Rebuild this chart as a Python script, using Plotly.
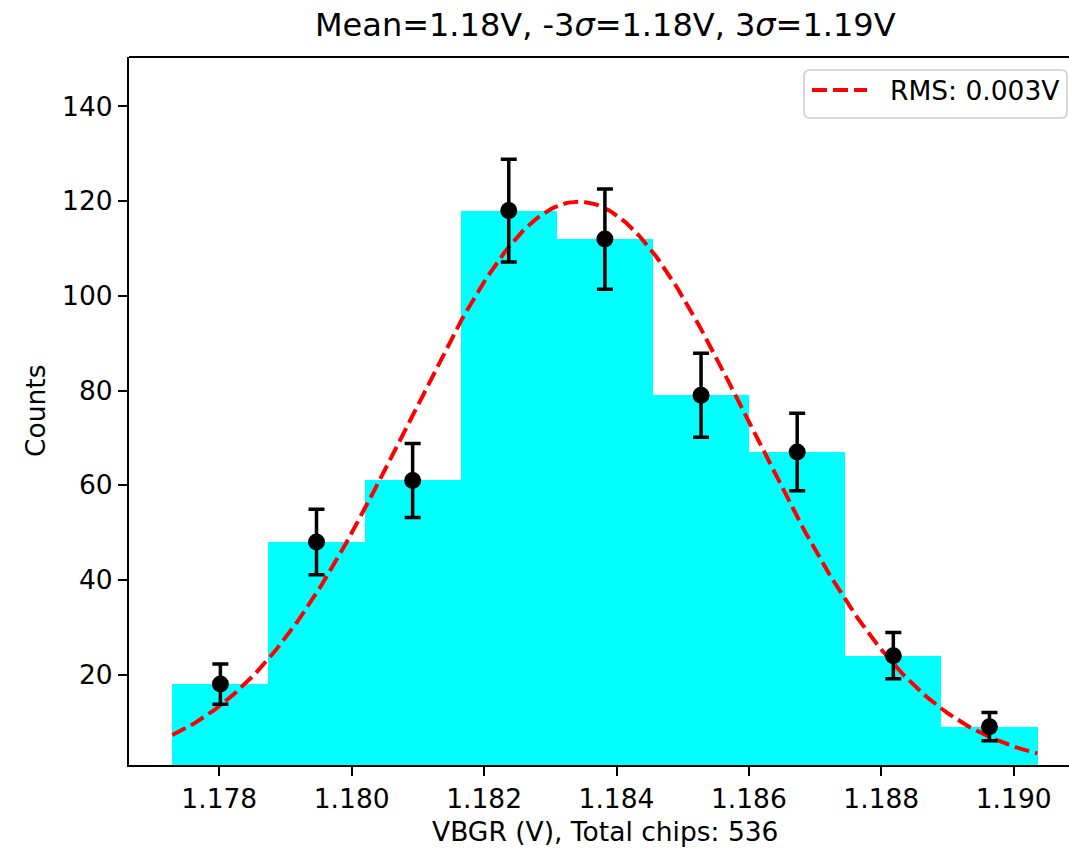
import numpy as np
import plotly.graph_objects as go

# Histogram of VBGR measurements (9 bins)
bin_lo = 1.17729
bin_hi = 1.19036
counts = [18, 48, 61, 118, 112, 79, 67, 24, 9]

# Gaussian fit parameters
fit_mean = 1.18343
fit_sigma = 0.00259

title_text = "Mean=1.18V, -3<i>σ</i>=1.18V, 3<i>σ</i>=1.19V"
xlabel_text = "VBGR (V), Total chips: 536"
ylabel_text = "Counts"
legend_text = "RMS: 0.003V"

x_ticks = [1.178, 1.180, 1.182, 1.184, 1.186, 1.188, 1.190]
y_ticks = [20, 40, 60, 80, 100, 120, 140]

counts_arr = np.array(counts, dtype=float)
nbins = len(counts)
edges = np.linspace(bin_lo, bin_hi, nbins + 1)
centers = 0.5 * (edges[:-1] + edges[1:])
bin_w = edges[1] - edges[0]
errors = np.sqrt(counts_arr)

total = counts_arr.sum()
xf = np.linspace(bin_lo, bin_hi, 300)
amp = total * bin_w / (fit_sigma * np.sqrt(2 * np.pi))
yf = amp * np.exp(-0.5 * ((xf - fit_mean) / fit_sigma) ** 2)

FONT = "DejaVu Sans"
FS = 26.5

# plot-area geometry in pixels
W, H = 1069, 848
L, T, B = 129, 57, 83
PW, PH = W - L, H - T - B


def px(x):
    return (x - L) / PW


def py(y):
    return (H - B - y) / PH


fig = go.Figure()
fig.add_trace(go.Bar(
    x=centers, y=counts_arr, width=bin_w,
    marker=dict(color="#00ffff", line=dict(width=0)),
    showlegend=False, hoverinfo="skip",
))
fig.add_trace(go.Scatter(
    x=xf, y=yf, mode="lines",
    line=dict(color="#ff0000", width=4, dash="15px,6px"),
    name=legend_text, showlegend=False,
))
fig.add_trace(go.Scatter(
    x=centers, y=counts_arr, mode="markers",
    marker=dict(color="black", size=17),
    error_y=dict(type="data", array=errors, color="black",
                 thickness=3.5, width=8),
    showlegend=False,
))

# legend box (rounded) with dashed sample and label
x0, x1, y0, y1, r = 804, 1067, 70, 118, 6
rx, ry = r / PW, r / PH
X0, X1, Y0, Y1 = px(x0), px(x1), py(y1), py(y0)
path = (f"M{X0+rx},{Y0} L{X1-rx},{Y0} Q{X1},{Y0} {X1},{Y0+ry} "
        f"L{X1},{Y1-ry} Q{X1},{Y1} {X1-rx},{Y1} L{X0+rx},{Y1} "
        f"Q{X0},{Y1} {X0},{Y1-ry} L{X0},{Y0+ry} Q{X0},{Y0} {X0+rx},{Y0} Z")

shapes = [
    dict(type="path", xref="paper", yref="paper", path=path,
         fillcolor="rgba(255,255,255,0.8)", line=dict(color="#cccccc", width=1.5)),
    dict(type="line", xref="paper", yref="paper",
         x0=px(812), x1=px(867), y0=py(90), y1=py(90),
         line=dict(color="#ff0000", width=4, dash="15px,6px")),
    dict(type="line", xref="paper", yref="paper",
         x0=0, x1=1, y0=1, y1=1, line=dict(color="black", width=2)),
]

axis_center = px(605)
annotations = [
    dict(text=legend_text, xref="paper", yref="paper", x=px(888), y=py(90),
         xanchor="left", yanchor="middle", showarrow=False,
         font=dict(family=FONT, size=FS, color="black")),
    dict(text=title_text, xref="paper", yref="paper", x=axis_center, y=py(25),
         xanchor="center", yanchor="middle", showarrow=False,
         font=dict(family=FONT, size=32, color="black")),
    dict(text=xlabel_text, xref="paper", yref="paper", x=axis_center, y=py(831),
         xanchor="center", yanchor="middle", showarrow=False,
         font=dict(family=FONT, size=FS, color="black")),
    dict(text=ylabel_text, xref="paper", yref="paper", x=px(35), y=py(411),
         xanchor="center", yanchor="middle", showarrow=False, textangle=-90,
         font=dict(family=FONT, size=FS, color="black")),
]

fig.update_layout(
    width=W, height=H,
    margin=dict(l=L, r=0, t=T, b=B),
    paper_bgcolor="white", plot_bgcolor="white",
    bargap=0, showlegend=False,
    shapes=shapes, annotations=annotations,
    font=dict(family=FONT, size=FS, color="black"),
    xaxis=dict(range=[1.176636, 1.176636 + PW / 66200.0],
               tickvals=x_ticks, tickformat=".3f",
               showgrid=False, zeroline=False,
               showline=True, linecolor="black", linewidth=2,
               ticks="outside", ticklen=9, tickwidth=2, tickcolor="black",
               tickfont=dict(family=FONT, size=FS, color="black")),
    yaxis=dict(range=[0.9, 150.45], tickvals=y_ticks,
               showgrid=False, zeroline=False,
               showline=True, linecolor="black", linewidth=2,
               ticks="outside", ticklen=9, tickwidth=2, tickcolor="black",
               tickfont=dict(family=FONT, size=FS, color="black")),
)

fig.write_html("out.html")
